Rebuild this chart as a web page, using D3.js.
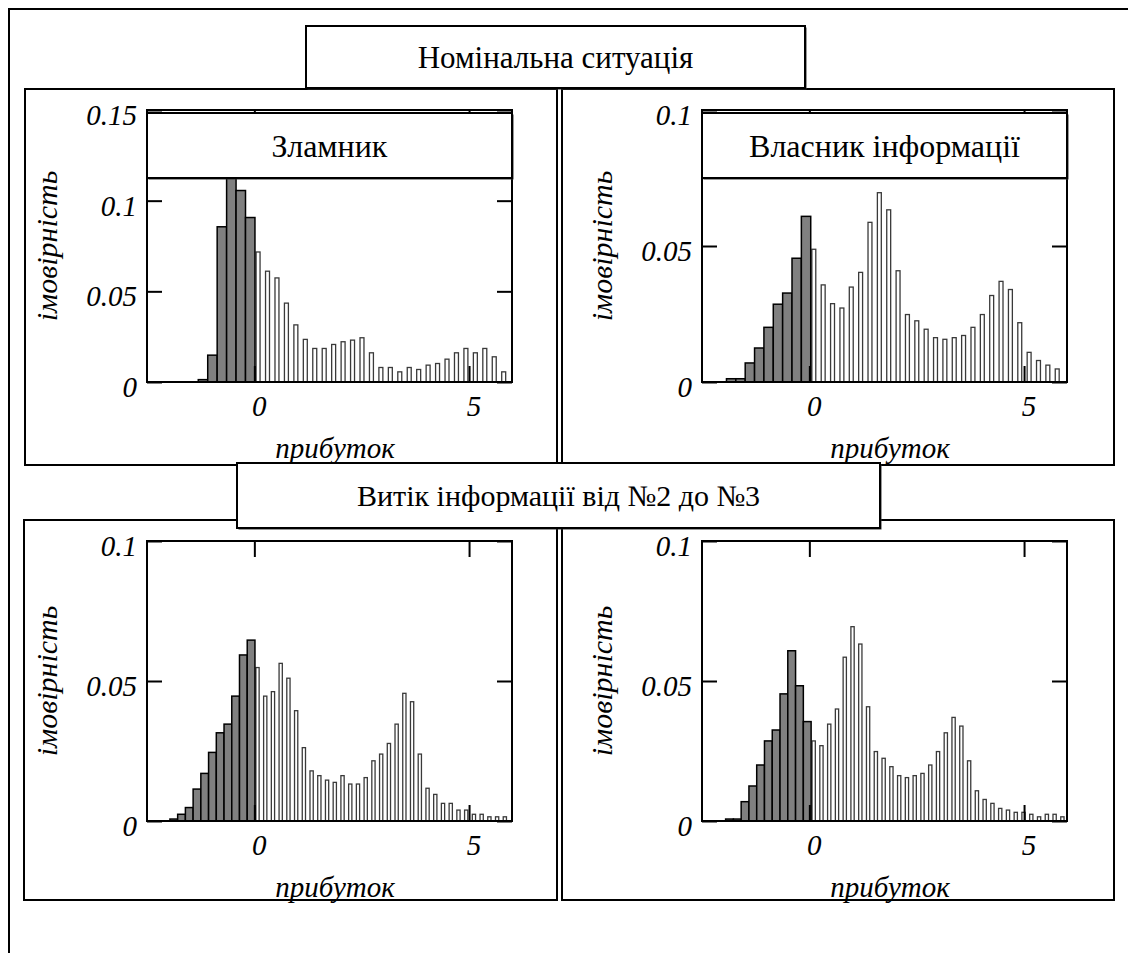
<!DOCTYPE html>
<html>
<head>
<meta charset="utf-8">
<script src="https://cdn.jsdelivr.net/npm/d3@7"></script>
<style>
body { margin: 0; background: #fff; }
</style>
</head>
<body>
<script>
// titles
var groupTitles = ["Номінальна ситуація", "Витік інформації від №2 до №3"];
var panelTitles = ["Зламник", "Власник інформації", "", ""];
var xLabel = "прибуток";
var yLabel = "імовірність";

// axis ticks
var xTicks = [0, 5];
var yTicksWide = [0, 0.05, 0.1, 0.15];
var yTicks = [0, 0.05, 0.1];

// bins: first left edge and width, in profit units
var binStart = [-1.306, -1.93, -1.966, -1.95];
var binWidth = [0.22, 0.218, 0.18, 0.181];

// probabilities, loss side (dark) and gain side (light)
var lossBreaker = [0.0013, 0.0148, 0.0856, 0.118, 0.1056, 0.0907];
var gainBreaker = [0.0717, 0.0611, 0.0574, 0.0435, 0.0315, 0.0235, 0.0185, 0.0185, 0.0207, 0.0222, 0.0231, 0.0244, 0.0161, 0.008, 0.008, 0.0056, 0.008, 0.0069, 0.0093, 0.0102, 0.0126, 0.0161, 0.0185, 0.0161, 0.0185, 0.0139, 0.0056];

var lossOwner = [0.0012, 0.0012, 0.0070, 0.0125, 0.0201, 0.0286, 0.0327, 0.0455, 0.0609];
var gainOwner = [0.0488, 0.0357, 0.0288, 0.0272, 0.0349, 0.0403, 0.0587, 0.0696, 0.0633, 0.0409, 0.0248, 0.0225, 0.0194, 0.0163, 0.0157, 0.0163, 0.0171, 0.0201, 0.0248, 0.0318, 0.0370, 0.0340, 0.0218, 0.0109, 0.0079, 0.0062, 0.0048];

var lossLeakA = [0.0007, 0.0024, 0.0048, 0.0114, 0.0170, 0.0245, 0.0315, 0.0346, 0.0446, 0.0593, 0.0646];
var gainLeakA = [0.0548, 0.0446, 0.0462, 0.0563, 0.0510, 0.0394, 0.0262, 0.0179, 0.0162, 0.0146, 0.0138, 0.0162, 0.0132, 0.0132, 0.0155, 0.0215, 0.0239, 0.0277, 0.0346, 0.0456, 0.0426, 0.0239, 0.0117, 0.0095, 0.0063, 0.0063, 0.0039, 0.0039, 0.0024, 0.0024, 0.0015, 0.0015, 0.0015];

var lossLeakB = [0.0007, 0.0007, 0.0069, 0.0125, 0.0200, 0.0286, 0.0325, 0.0454, 0.0608, 0.0483, 0.0355];
var gainLeakB = [0.0286, 0.0269, 0.0346, 0.0400, 0.0585, 0.0694, 0.0632, 0.0408, 0.0248, 0.0224, 0.0194, 0.0162, 0.0155, 0.0162, 0.0170, 0.0200, 0.0248, 0.0315, 0.0370, 0.0339, 0.0215, 0.0108, 0.0077, 0.0063, 0.0045, 0.0039, 0.0031, 0.0031, 0.0024, 0.0015, 0.0024, 0.0024, 0.0015];

var lossData = [lossBreaker, lossOwner, lossLeakA, lossLeakB];
var gainData = [gainBreaker, gainOwner, gainLeakA, gainLeakB];

var serif = "Liberation Serif, Times New Roman, serif";

var svg = d3.select("body").append("svg").attr("width", 1128).attr("height", 953)
	.attr("font-family", serif);

function fmt(d){ return d === 0 ? "0" : String(d); }

function box(x, y, w, h){
	svg.append("rect").attr("x", x).attr("y", y).attr("width", w).attr("height", h)
		.attr("fill", "#fff").attr("stroke", "#000").attr("stroke-width", 2);
}

function titleBox(x, y, w, h, label, size){
	svg.append("rect").attr("x", x + 1.5).attr("y", y + 1.5).attr("width", w).attr("height", h).attr("fill", "#333");
	box(x, y, w, h);
	svg.append("text").attr("x", x + w / 2).attr("y", y + h / 2).attr("dy", "0.35em")
		.attr("text-anchor", "middle").attr("font-family", serif).attr("font-size", size).text(label);
}

function drawPanel(i, left, top, bottom, yMax, ticks){
	var right = left + 365;
	var x = d3.scaleLinear().domain([-2.5, 6]).range([left, right]);
	var y = d3.scaleLinear().domain([0, yMax]).range([bottom, top]);
	var g = svg.append("g");
	var w = binWidth[i];
	var nLoss = lossData[i].length;

	// light bars, narrow and hollow
	g.selectAll("rect.gain").data(gainData[i]).enter().append("rect")
		.attr("class", "gain")
		.attr("x", function(d, k){ return x(binStart[i] + (nLoss + k) * w) + 0.12 * (x(w) - x(0)); })
		.attr("width", function(){ return 0.42 * (x(w) - x(0)); })
		.attr("y", function(d){ return y(d); })
		.attr("height", function(d){ return y(0) - y(d); })
		.attr("fill", "#fff").attr("stroke", "#3a3a3a").attr("stroke-width", 1.3);

	// dark bars
	g.selectAll("rect.loss").data(lossData[i]).enter().append("rect")
		.attr("class", "loss")
		.attr("x", function(d, k){ return x(binStart[i] + k * w); })
		.attr("width", function(){ return x(w) - x(0); })
		.attr("y", function(d){ return y(d); })
		.attr("height", function(d){ return y(0) - y(d); })
		.attr("fill", "#808080").attr("stroke", "#000").attr("stroke-width", 1.5);

	// frame
	g.append("rect").attr("x", left).attr("y", top).attr("width", right - left).attr("height", bottom - top)
		.attr("fill", "none").attr("stroke", "#000").attr("stroke-width", 2);

	var axL = g.append("g").attr("transform", "translate(" + left + ",0)")
		.call(d3.axisLeft(y).tickValues(ticks).tickSize(-15).tickPadding(10).tickFormat(fmt));
	var axR = g.append("g").attr("transform", "translate(" + right + ",0)")
		.call(d3.axisRight(y).tickValues(ticks).tickSize(-15).tickFormat(""));
	var axB = g.append("g").attr("transform", "translate(0," + bottom + ")")
		.call(d3.axisBottom(x).tickValues(xTicks).tickSize(-16).tickPadding(13).tickFormat(fmt));
	var axT = g.append("g").attr("transform", "translate(0," + top + ")")
		.call(d3.axisTop(x).tickValues(xTicks).tickSize(-16).tickFormat(""));

	[axL, axR, axB, axT].forEach(function(a){
		a.attr("font-family", serif).attr("font-size", 29);
		a.select(".domain").remove();
		a.selectAll("line").attr("stroke", "#000").attr("stroke-width", 2);
		a.selectAll("text").attr("font-style", "italic").attr("fill", "#000");
	});
	axL.selectAll("text").attr("dy", "0.5em");
	axB.selectAll("text").attr("dx", "0.15em");

	// axis titles
	g.append("text").attr("transform", "translate(" + (left - 90) + "," + ((top + bottom) / 2) + ") rotate(-90)")
		.attr("text-anchor", "middle").attr("font-style", "italic").attr("font-size", 30).text(yLabel);
	g.append("text").attr("x", left + 188).attr("y", bottom + 76)
		.attr("text-anchor", "middle").attr("font-style", "italic").attr("font-size", 29).text(xLabel);

	if (panelTitles[i] !== ""){
		titleBox(left, top + 3, 365, 65, panelTitles[i], 32);
	}
}

// outer frame
svg.append("path").attr("d", "M9,953V9H1128").attr("fill", "none").attr("stroke", "#000").attr("stroke-width", 2);

// panel boxes
box(25, 89, 532, 376);
box(562, 89, 552, 376);
box(24, 520, 533, 380);
box(562, 520, 552, 380);

drawPanel(0, 147, 110, 382, 0.15, yTicksWide);
drawPanel(1, 702, 110, 382, 0.1, yTicks);
drawPanel(2, 147, 541, 821, 0.1, yTicks);
drawPanel(3, 702, 541, 821, 0.1, yTicks);

titleBox(306, 26, 499, 62, groupTitles[0], 31);
titleBox(237, 463, 643, 65, groupTitles[1], 30);
</script>
</body>
</html>
